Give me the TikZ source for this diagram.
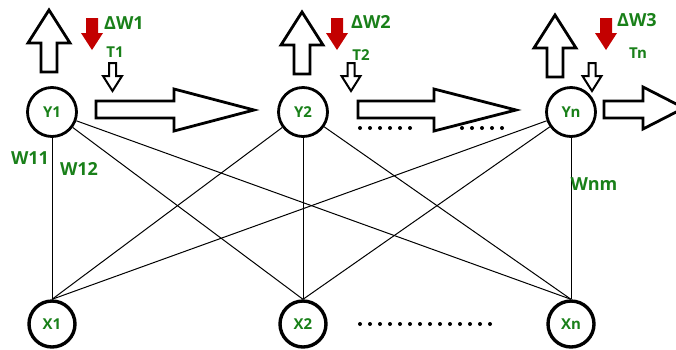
\documentclass[tikz,border=0pt]{standalone}
\usepackage{fontspec}
\setsansfont{Open Sans}
\definecolor{lblgreen}{RGB}{25,128,25}
\definecolor{wred}{RGB}{195,0,0}
\begin{document}
\begin{tikzpicture}[x=1pt, y=-1pt,
	ynode/.style={circle, draw, line width=2.8pt, minimum size=49pt, inner sep=0pt, text=lblgreen, font=\sffamily\bfseries\fontsize{15}{15}\selectfont},
	xnode/.style={ynode, line width=3.4pt, minimum size=46pt},
	lbl/.style={text=lblgreen, font=\sffamily\bfseries\fontsize{18}{18}\selectfont, inner sep=0pt},
	tlbl/.style={lbl, font=\sffamily\bfseries\fontsize{15}{15}\selectfont},
	blockarrow/.style={draw, line width=2.8pt, fill=white, line join=miter},
	smallarrow/.style={draw, line width=2pt, fill=white, line join=miter},
	redarrow/.style={fill=wred},
	dots/.style={line width=4pt, line cap=round, dash pattern=on 0pt off 10pt},
	link/.style={line width=1pt}]
	\useasboundingbox (0,0) rectangle (676,349);

	% Neuronas de salida
	\node[ynode] (Y1) at (52,112) {Y1};
	\node[ynode] (Y2) at (303,112) {Y2};
	\node[ynode] (Yn) at (571,112) {Yn};

	% Neuronas de entrada
	\node[xnode] (X1) at (52,324) {X1};
	\node[xnode] (X2) at (303,324) {X2};
	\node[xnode] (Xn) at (571,324) {Xn};

	% Conexiones (pesos)
	\draw[link] (Y1) -- (X1.north);
	\draw[link] (Y1) -- (X2.north);
	\draw[link] (Y1) -- (Xn.north);
	\draw[link] (Y2) -- (X1.north);
	\draw[link] (Y2) -- (X2.north);
	\draw[link] (Y2) -- (Xn.north);
	\draw[link] (Yn) -- (X1.north);
	\draw[link] (Yn) -- (X2.north);
	\draw[link] (Yn) -- (Xn.north);
	\node[lbl] (w11) at (30,158) {W11};
	\node[lbl] (w12) at (79,169) {W12};
	\node[lbl] (wnm) at (594,184) {Wnm};

	% Flechas hacia arriba (salidas)
	\draw[blockarrow] (49,10) -- (70,43) -- (57,43) -- (57,72) -- (41,72) -- (41,43) -- (28,43) -- cycle;
	\draw[blockarrow] (302,12) -- (323,45) -- (310,45) -- (310,74) -- (294,74) -- (294,45) -- (281,45) -- cycle;
	\draw[blockarrow] (555,15) -- (576,48) -- (563,48) -- (563,77) -- (547,77) -- (547,48) -- (534,48) -- cycle;

	% Correcciones de pesos
	\fill[redarrow] (86,18) -- (98,18) -- (98,33) -- (103,33) -- (92,50) -- (81,33) -- (86,33) -- cycle;
	\fill[redarrow] (331,18) -- (343,18) -- (343,33) -- (348,33) -- (337,50) -- (326,33) -- (331,33) -- cycle;
	\fill[redarrow] (600,18) -- (612,18) -- (612,33) -- (617,33) -- (606,50) -- (595,33) -- (600,33) -- cycle;
	\node[lbl, anchor=west] (dw1) at (104,23) {ΔW1};
	\node[lbl, anchor=west] (dw2) at (351,22) {ΔW2};
	\node[lbl, anchor=west] (dw3) at (617,20) {ΔW3};

	% Umbrales
	\draw[smallarrow] (109,63) -- (116,63) -- (116,76) -- (122,76) -- (112.5,91) -- (103,76) -- (109,76) -- cycle;
	\draw[smallarrow] (347.5,63) -- (354.5,63) -- (354.5,76) -- (360.5,76) -- (351,91) -- (341.5,76) -- (347.5,76) -- cycle;
	\draw[smallarrow] (588.5,63) -- (595.5,63) -- (595.5,76) -- (601.5,76) -- (592,91) -- (582.5,76) -- (588.5,76) -- cycle;
	\node[tlbl] (t1) at (115,52) {T1};
	\node[tlbl] (t2) at (361,55) {T2};
	\node[tlbl] (tn) at (638,53) {Tn};

	% Flechas horizontales
	\draw[blockarrow] (96,101) -- (174,101) -- (174,89) -- (254,110) -- (174,131) -- (174,118) -- (96,118) -- cycle;
	\draw[blockarrow] (358,101) -- (434,101) -- (434,89) -- (516,110) -- (434,131) -- (434,118) -- (358,118) -- cycle;
	\draw[blockarrow] (604,101) -- (643,101) -- (643,87) -- (684,108) -- (643,129) -- (643,118) -- (604,118) -- cycle;

	% Puntos suspensivos
	\draw[dots] (360,128) -- (420,128);
	\draw[dots] (462,128) -- (502,128);
	\draw[dots] (360,324) -- (500,324);
\end{tikzpicture}
\end{document}
